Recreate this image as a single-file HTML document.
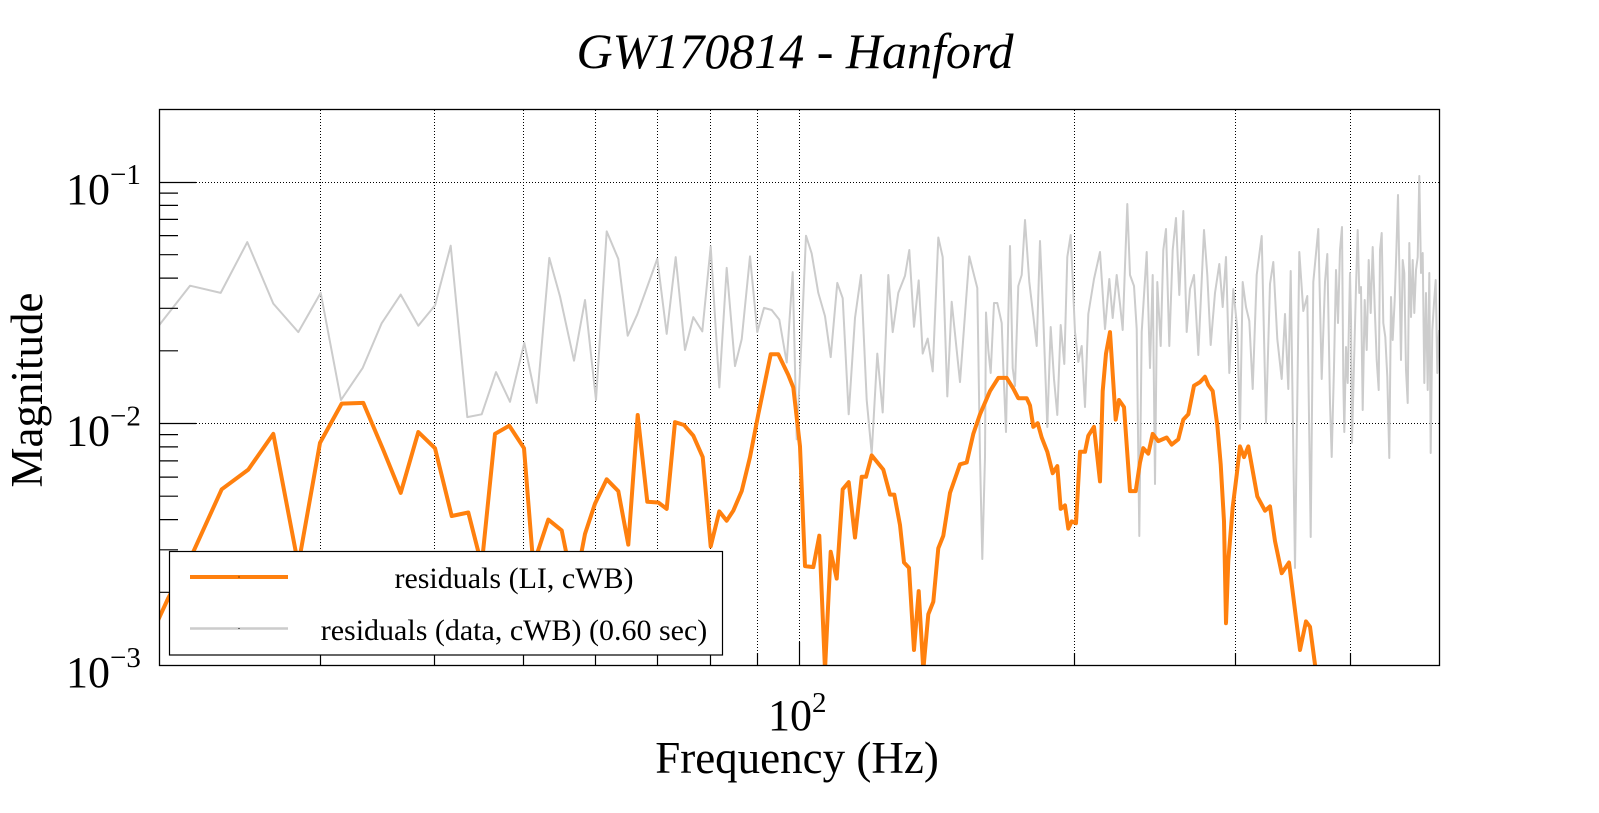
<!DOCTYPE html>
<html>
<head>
<meta charset="utf-8">
<style>
html,body{margin:0;padding:0;background:#fff;overflow:hidden;}
svg{display:block;}
text{font-family:"Liberation Serif","Times New Roman",serif;fill:#000;}
</style>
</head>
<body>
<svg width="1599" height="813" viewBox="0 0 1599 813" xmlns="http://www.w3.org/2000/svg">
<rect x="0" y="0" width="1599" height="813" fill="#fff"/>
<defs>
<clipPath id="c"><rect x="159" y="109" width="1280" height="557"/></clipPath>
</defs>

<!-- grid -->
<g stroke="#000" stroke-width="1" stroke-dasharray="1 2" fill="none">
<line x1="320.5" y1="110" x2="320.5" y2="666"/>
<line x1="434.5" y1="110" x2="434.5" y2="666"/>
<line x1="523.5" y1="110" x2="523.5" y2="666"/>
<line x1="595.5" y1="110" x2="595.5" y2="666"/>
<line x1="657.5" y1="110" x2="657.5" y2="666"/>
<line x1="710.5" y1="110" x2="710.5" y2="666"/>
<line x1="757.5" y1="110" x2="757.5" y2="666"/>
<line x1="799.5" y1="110" x2="799.5" y2="666"/>
<line x1="1074.5" y1="110" x2="1074.5" y2="666"/>
<line x1="1235.5" y1="110" x2="1235.5" y2="666"/>
<line x1="1350.5" y1="110" x2="1350.5" y2="666"/>
<line x1="160" y1="182.5" x2="1439" y2="182.5"/>
<line x1="160" y1="423.5" x2="1439" y2="423.5"/>
</g>

<g clip-path="url(#c)" fill="none" stroke-linejoin="round">
<polyline stroke="#cccccc" stroke-width="2" points="
159.3,325 190,285.7 220.7,292.9 247.3,242.1 273.3,303.6 298.3,332.1 320.7,292.9 341,400 362.7,367.9 381.7,323.2 400.7,294.6 418.3,325.7 435,305.4 450.7,245.7 467.3,417.1 481.7,414.3 496,372.1 510,401.8 524.3,342.9 536.7,402.9 549.3,257.9 560,296.4 574,360.7 585,300 596,400 606.7,231.4 618.3,258.9 627.7,335.7 637.3,314.3 657.3,258.9 666.7,333.9 675.7,257.1 685,350 693.3,317.1 702.3,331.4 710.7,246.4 719.3,387.5 726.7,267.9 735,366.1 741.7,339.3 750,256.4 757.3,332.1 764,307.9 771.7,310 779.3,319.6 786.7,362.5 792.7,272.1 796.7,439.3 800.7,357.1 806,235.7 811.7,253.6 818.3,292.9 825,316.1 830.7,357.1 837.3,282.9 842.7,298.2 848.7,414.3 855,317.9 861,275 866.7,400 871.7,453.6 877.3,353.6 882.7,412.5 888.3,275 892.7,332.1 898.3,292.9 905,275.7 909.3,250 914,326.8 918.7,280.4 922.7,353.6 927.7,338.6 932.7,371.4 938.3,237.5 942.7,257.1 947.3,396.4 951.7,301.8 960,382.1 969.3,256.4 977.3,288 980,457 982.3,559 985,457 986,312.5 988.3,350 990.7,373 994,303 997.3,303 1001.7,323 1003.3,368 1006,432 1008.3,316 1010,246 1012.7,368 1015,386 1018.3,286 1021.7,275 1025,220 1029.3,282 1033.3,316 1036.7,346 1040,241 1043.3,318 1047.3,427 1050.7,327 1054,379 1057.3,415 1060.7,325 1064.3,364 1067.3,257 1070.7,235 1075,332 1078.3,362 1081.7,346 1085,407 1088.3,314 1094,279 1100,252 1105,329 1109.3,279 1112.7,318 1116.7,275 1120,304 1122.7,330 1125,266 1127.3,204 1130,275 1134,286 1136.7,329 1139.3,536 1141.7,332 1146.7,252 1150,368 1152.7,275 1155,484 1157.3,282 1160.7,346 1163.3,250 1166,229 1169.3,346 1172.7,250 1176,218 1179.3,295 1183.3,211 1186.7,332 1190,289 1194,275 1198.3,355 1204,230 1207.3,275 1210.7,345 1215,293 1219.3,264 1222.7,307 1226,257 1229.3,373 1233.3,289 1237.3,329 1240,429 1242.7,282 1246,307 1249.3,321 1252.7,389 1256.7,275 1261.7,236 1266,423 1270,284 1273.3,262 1277.3,339 1281.7,379 1285,314 1288.3,389 1290.7,271 1295,568 1299.3,252 1303.3,311 1307.3,296 1310.7,537 1313.3,282 1318.3,229 1321.7,379 1325,282 1327.3,254 1330,403 1331.7,457 1334,367 1336,270 1338,323 1340,250 1342,227 1343.3,380 1344.3,432 1346,347 1347.7,383 1350,273 1351,320 1352,443 1354,363 1356,287 1357.7,230 1359.3,293 1361,287 1362.7,410 1364.7,300 1366.7,350 1368.7,260 1370.7,313 1372.7,247 1374.7,307 1376.7,360 1378.7,390 1380,250 1381.7,233 1383.3,323 1385.3,337 1387.3,377 1389.3,458 1391,297 1392.7,340 1394.7,300 1396.3,253 1398,195 1399.3,267 1401,360 1402.7,260 1404.3,273 1406,370 1407.7,403 1409.3,243 1411,317 1412.7,260 1414.3,313 1416,270 1417.7,257 1419.3,176 1421,273 1422.7,253 1424.3,383 1426,293 1427.7,390 1429.3,273 1430.7,453 1432.3,330 1434,303 1435.7,280 1437.3,373 1439,330"/>
<polyline stroke="#ff800e" stroke-width="4" points="
158.3,619.6 168.3,598 193.3,551.8 221.7,489.3 248.3,469.6 273.3,433.9 298.3,565 320,442.9 341.7,403.6 363.3,402.9 383.3,450 400.7,492.9 418.3,432.1 435,448.2 451.7,516 468.3,512.5 481.7,565 495,433.9 509.3,425.7 524,448.2 533.3,565 548.3,519.6 561.7,530.4 566.7,555 580,560 585,533.9 595,503.6 606.7,479.3 618.3,491.1 628.3,544.6 637.7,415 647.3,501.8 658.3,502.5 666.7,508.9 675,422.1 684,425 693.3,435.7 702.7,457.1 710.7,546.4 719.3,511.4 726.7,520.7 733.3,510.7 741.7,491.1 750,457.1 758.3,414.3 770.7,354.3 778.3,354.3 788.3,375 793.3,387.5 800,446.4 805,566.1 813.3,567.1 819.3,535.7 825,670 830.7,551.8 836.7,578.6 842.7,489.3 848.7,482.1 855,537.5 861.7,476.8 866,476.8 871.7,455.4 883.3,469.6 890,494.6 894.3,494.6 900,525 904,562.5 909,567.9 914,650 918.7,591.1 923.3,670 928.3,614.3 933.3,601.8 938.3,548.2 943.3,535.7 950,492.9 960,464.3 966.7,462.5 973.3,433.9 980,414.3 990,391.1 998.3,377.9 1006.7,377.9 1013.3,388.6 1018.3,398.2 1026.7,398.2 1030,405.4 1033.3,426.8 1037.7,423.2 1041.7,437.5 1047.3,451.8 1052.7,473.2 1057.3,466.1 1060.7,508.9 1065,505.4 1068.3,528.6 1071.7,521.4 1076,523.2 1080,451.8 1085,451.8 1088.3,435.7 1094,426.8 1100,481.4 1102.7,391.1 1106,353.6 1110,332.1 1115.7,419.6 1119,400 1124,407.1 1130,491.1 1135.7,491.1 1140,462.5 1143.3,448.2 1148.3,453.6 1152.7,433.9 1158.3,441.1 1166.7,437.5 1171.7,444.6 1178.3,439.3 1183.3,419.6 1188.3,414.3 1194,385.7 1200,382.1 1205,376.8 1208.3,385 1212.7,391.1 1217.3,425 1220.7,464.3 1224,521.4 1226,623.2 1228.3,560.7 1232.7,507.1 1236.7,475 1240,446.4 1244,457.1 1248.3,446.4 1257.3,496.4 1265,510.7 1270,506.4 1275,541.1 1281.7,573.2 1289,562.5 1300,650 1306,621.4 1310,626.8 1316,672"/>
</g>

<!-- frame -->
<rect x="159.5" y="109.5" width="1280" height="556" fill="none" stroke="#000" stroke-width="1.3"/>

<!-- y ticks -->
<g stroke="#000" stroke-width="1.2">
<line x1="159.5" y1="182.5" x2="196" y2="182.5"/>
<line x1="159.5" y1="423.5" x2="196" y2="423.5"/>
<line x1="159.5" y1="592.3" x2="178" y2="592.3"/>
<line x1="159.5" y1="549.8" x2="178" y2="549.8"/>
<line x1="159.5" y1="519.6" x2="178" y2="519.6"/>
<line x1="159.5" y1="496.2" x2="178" y2="496.2"/>
<line x1="159.5" y1="477.1" x2="178" y2="477.1"/>
<line x1="159.5" y1="460.9" x2="178" y2="460.9"/>
<line x1="159.5" y1="446.9" x2="178" y2="446.9"/>
<line x1="159.5" y1="434.6" x2="178" y2="434.6"/>
<line x1="159.5" y1="350.8" x2="178" y2="350.8"/>
<line x1="159.5" y1="308.3" x2="178" y2="308.3"/>
<line x1="159.5" y1="278.1" x2="178" y2="278.1"/>
<line x1="159.5" y1="254.7" x2="178" y2="254.7"/>
<line x1="159.5" y1="235.6" x2="178" y2="235.6"/>
<line x1="159.5" y1="219.4" x2="178" y2="219.4"/>
<line x1="159.5" y1="205.4" x2="178" y2="205.4"/>
<line x1="159.5" y1="193.1" x2="178" y2="193.1"/>
</g>
<!-- x ticks -->
<g stroke="#000" stroke-width="1.2">
<line x1="320.5" y1="666" x2="320.5" y2="653"/>
<line x1="434.5" y1="666" x2="434.5" y2="653"/>
<line x1="523.5" y1="666" x2="523.5" y2="653"/>
<line x1="595.5" y1="666" x2="595.5" y2="653"/>
<line x1="657.5" y1="666" x2="657.5" y2="653"/>
<line x1="710.5" y1="666" x2="710.5" y2="653"/>
<line x1="757.5" y1="666" x2="757.5" y2="653"/>
<line x1="799.5" y1="666" x2="799.5" y2="642"/>
<line x1="1074.5" y1="666" x2="1074.5" y2="653"/>
<line x1="1235.5" y1="666" x2="1235.5" y2="653"/>
<line x1="1350.5" y1="666" x2="1350.5" y2="653"/>
</g>

<!-- legend -->
<rect x="169.5" y="551.5" width="553" height="103.5" fill="#fff" stroke="#000" stroke-width="1.2"/>
<line x1="190" y1="577" x2="288" y2="577" stroke="#ff800e" stroke-width="4"/>
<line x1="190" y1="628.5" x2="288" y2="628.5" stroke="#cccccc" stroke-width="2.5"/>
<rect x="238.5" y="576.5" width="1" height="1" fill="#000"/>
<rect x="238.5" y="628" width="1" height="1" fill="#000"/>
<text x="514" y="588" font-size="30" text-anchor="middle">residuals (LI, cWB)</text>
<text x="514" y="640" font-size="30" text-anchor="middle">residuals (data, cWB) (0.60 sec)</text>

<!-- title -->
<text x="795" y="68" font-size="50" font-style="italic" text-anchor="middle">GW170814 - Hanford</text>

<!-- y tick labels -->
<text x="110" y="204" font-size="44" text-anchor="end">10</text>
<text x="110" y="184" font-size="29">−1</text>
<text x="110" y="445.5" font-size="44" text-anchor="end">10</text>
<text x="110" y="425.5" font-size="29">−2</text>
<text x="110" y="687" font-size="44" text-anchor="end">10</text>
<text x="110" y="667" font-size="29">−3</text>

<!-- x tick label -->
<text x="812" y="730" font-size="44" text-anchor="end">10</text>
<text x="812" y="712" font-size="29">2</text>

<!-- axis titles -->
<text x="797" y="773" font-size="45" text-anchor="middle">Frequency (Hz)</text>
<text transform="translate(42,390) rotate(-90)" font-size="45" text-anchor="middle">Magnitude</text>
</svg>
</body>
</html>
